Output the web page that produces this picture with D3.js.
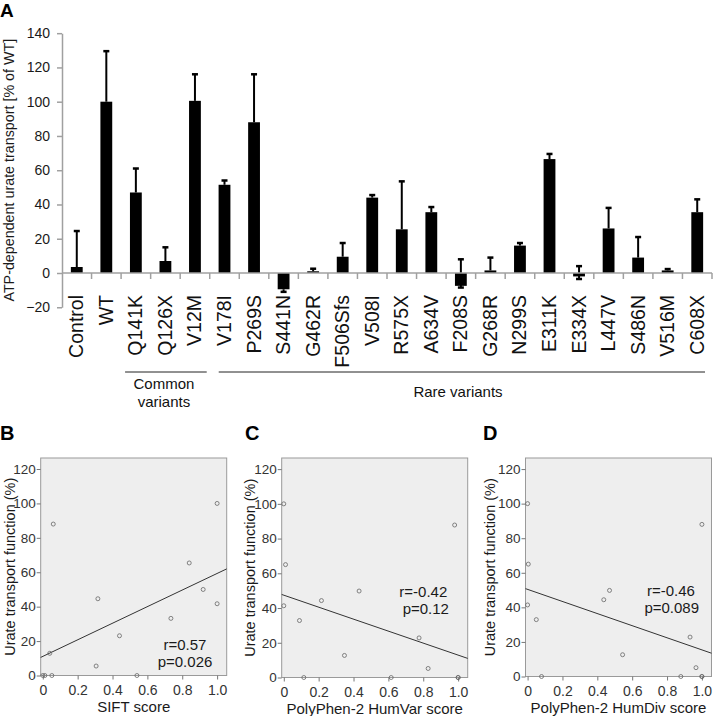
<!DOCTYPE html>
<html>
<head>
<meta charset="utf-8">
<script src="https://cdn.jsdelivr.net/npm/d3@7/dist/d3.min.js"></script>
<style>
  html, body { margin: 0; padding: 0; background: #fff; }
  svg { display: block; font-family: "Liberation Sans", Arial, sans-serif; }
</style>
</head>
<body>
<svg id="chart" width="714" height="716"></svg>
<script>
// ---------- Panel A data ----------
const categories = ["Control","WT","Q141K","Q126X","V12M","V178I","P269S","S441N","G462R","F506Sfs",
  "V508I","R575X","A634V","F208S","G268R","N299S","E311K","E334X","L447V","S486N","V516M","C608X"];
const means   = [3.5, 100, 47, 7, 100.5, 51.5, 88, -9.5, 1, 9.5, 44, 25.5, 35.5, -7.5, 1.5, 16, 66.5, -2, 26, 9, 1.5, 35.5];
const errUp   = [21, 29.5, 14, 8, 15.5, 2.5, 28, 0, 1.5, 8, 1.5, 28, 3, 15.5, 7.5, 1.5, 3, 6, 12, 12, 0.8, 7.5];
const errDown = [0, 0, 0, 0, 0, 0, 0, 1.5, 0, 0, 0, 0, 0, 1, 0, 0, 0, 1.5, 0, 0, 0, 0];
const yTicksA = [-20, 0, 20, 40, 60, 80, 100, 120, 140];
const groupNames = [["Common", "variants"], ["Rare variants"]];
const groupStart = ["Q141K", "V178I"];
const groupEnd   = ["V12M", "C608X"];
const yTitleA = "ATP-dependent urate transport [% of WT]";

// ---------- Panels B-D data ----------
const siftX = [0.06, 1.0, 0.84, 0.92, 1.0, 0.735, 0.316, 0.44, 0.04, 0.306, 0.54, 0.052, 0.0, 0.012];
const siftY = [88, 100, 65.4, 50, 41.7, 33.2, 44.6, 23.1, 12.9, 5.5, 0, 0, 0, 0];
const humvarX = [0, 0.01, 0, 0.09, 0.216, 0.115, 0.348, 0.432, 0.616, 0.776, 0.828, 0.98, 1.0, 1.0];
const humvarY = [100, 65, 41.3, 32.8, 44.3, 0, 12.7, 49.8, 0, 22.8, 5.2, 87.8, 0, 0];
const humdivX = [0, 0.004, 0, 0.05, 0.08, 0.437, 0.47, 0.545, 0.879, 0.932, 0.966, 1.0, 1.0, 1.0];
const humdivY = [100, 65, 41.4, 32.9, 0, 44.4, 49.8, 12.6, 0, 22.8, 5.1, 88, 0, 0];
const fitIntercept = [11.1, 47.4, 50.4];
const fitSlope = [48.2, -34.5, -35.0];
const statR = ["r=0.57", "r=-0.42", "r=-0.46"];
const statP = ["p=0.026", "p=0.12", "p=0.089"];
const xTitles = ["SIFT score", "PolyPhen-2 HumVar score", "PolyPhen-2 HumDiv score"];
const panelLetters = ["B", "C", "D"];
const yTitleScatter = "Urate transport function (%)";
const xTicksS = [0, 0.2, 0.4, 0.6, 0.8, 1.0];
const yTicksS = [0, 20, 40, 60, 80, 100, 120];

const svg = d3.select("#chart");

// ================= Panel A =================
const A = { left: 62, right: 712, y0: 273, pxPerUnit: 1.713 };
const x = d3.scaleBand().domain(categories).range([A.left, A.right]).paddingInner(0.6).paddingOuter(0.3);
const xb = d3.scaleBand().domain(categories).range([A.left, A.right]);
const y = d3.scaleLinear().domain([-20, 140]).range([A.y0 + 20 * A.pxPerUnit, A.y0 - 140 * A.pxPerUnit]);

svg.append("text").attr("x", 0).attr("y", 17).attr("font-size", 19).attr("font-weight", "bold").text("A");

// y axis
const yAxisA = svg.append("g").attr("transform", `translate(${A.left},0)`)
  .call(d3.axisLeft(y).tickValues(yTicksA).tickSize(5).tickSizeOuter(0).tickPadding(7));
yAxisA.select(".domain").attr("stroke", "#a0a0a0").attr("stroke-width", 1.5);
yAxisA.selectAll(".tick line").attr("stroke", "#a0a0a0").attr("stroke-width", 1.5);
yAxisA.selectAll(".tick text").attr("font-size", 14).attr("fill", "#1a1a1a").attr("font-family", "Liberation Sans, Arial, sans-serif");

svg.append("text")
  .attr("transform", `translate(13.5,${(y(140)+ y(-20))/2 + 0}) rotate(-90)`)
  .attr("text-anchor", "middle").attr("font-size", 14.3).attr("fill", "#1a1a1a")
  .text(yTitleA);

// bars
svg.append("g").selectAll("rect").data(categories).join("rect")
  .attr("x", d => x(d))
  .attr("width", x.bandwidth())
  .attr("y", (d, i) => y(Math.max(0, means[i])))
  .attr("height", (d, i) => Math.abs(y(means[i]) - y(0)))
  .attr("fill", "#000");

// error bars
const eb = svg.append("g").attr("stroke", "#000");
categories.forEach((c, i) => {
  const cx = x(c) + x.bandwidth() / 2;
  const hi = means[i] + errUp[i], lo = means[i] - errDown[i];
  eb.append("line").attr("x1", cx).attr("x2", cx).attr("y1", y(lo)).attr("y2", y(hi)).attr("stroke-width", 2);
  if (errUp[i] > 0) eb.append("line").attr("x1", cx - 3).attr("x2", cx + 3).attr("y1", y(hi)).attr("y2", y(hi)).attr("stroke-width", 2.5);
  if (errDown[i] > 0) eb.append("line").attr("x1", cx - 3).attr("x2", cx + 3).attr("y1", y(lo)).attr("y2", y(lo)).attr("stroke-width", 2.5);
});

// x axis at zero
const gx = svg.append("g").attr("stroke", "#a0a0a0").attr("stroke-width", 1.5);
gx.append("line").attr("x1", A.left).attr("x2", A.right).attr("y1", y(0)).attr("y2", y(0));
categories.forEach(c => {
  const bx = xb(c) + xb.bandwidth();
  gx.append("line").attr("x1", bx).attr("x2", bx).attr("y1", y(0)).attr("y2", y(0) + 6);
});

// category labels
svg.append("g").selectAll("text").data(categories).join("text")
  .attr("transform", d => `translate(${x(d) + x.bandwidth()/2 + 6.5},295) rotate(-90)`)
  .attr("text-anchor", "end").attr("font-size", 19.5).attr("fill", "#111")
  .text(d => d);

// group lines
groupNames.forEach((g, gi) => {
  const x0 = xb(groupStart[gi]) + (gi === 0 ? 4 : 9);
  const x1 = xb(groupEnd[gi]) + xb.bandwidth() - (gi === 0 ? 3 : 7);
  svg.append("line").attr("x1", x0).attr("x2", x1).attr("y1", 372).attr("y2", 372)
    .attr("stroke", "#222").attr("stroke-width", 1);
  const t = svg.append("text").attr("text-anchor", "middle").attr("font-size", 15).attr("fill", "#111");
  const cx = gi === 0 ? (x0 + x1) / 2 - 2 : 458;
  g.forEach((line, li) => {
    t.append("tspan").attr("x", cx).attr("y", (gi === 0 ? 389 : 396.5) + li * 18).text(line);
  });
});

// ================= Panels B-D =================
const panels = [
  { L: 40.7, bottom: 675.5, xs: siftX, ys: siftY, titleX: 15, letterX: 0, statX: [185, 185], statY: [650, 667] },
  { L: 281.7, bottom: 677.5, xs: humvarX, ys: humvarY, titleX: 255, letterX: 245, statX: [423.3, 425.8], statY: [596.7, 614.3] },
  { L: 525.5, bottom: 676.5, xs: humdivX, ys: humdivY, titleX: 495, letterX: 483, statX: [671, 671.7], statY: [596, 613.3] }
];
const TOP = 458, W = 186;

panels.forEach((p, pi) => {
  const g = svg.append("g");
  const sx = d3.scaleLinear().domain([-0.012, 1.055]).range([p.L, p.L + W]);
  const sy = d3.scaleLinear().domain([0, 126.4]).range([p.bottom, TOP]);

  g.append("text").attr("x", p.letterX).attr("y", 440).attr("font-size", 20).attr("font-weight", "bold").text(panelLetters[pi]);

  g.append("rect").attr("x", p.L).attr("y", TOP).attr("width", W).attr("height", p.bottom - TOP)
    .attr("fill", "#eeeeee").attr("stroke", "#9a9a9a").attr("stroke-width", 1);

  const ax = g.append("g").attr("transform", `translate(0,${p.bottom})`)
    .call(d3.axisBottom(sx).tickValues(xTicksS).tickFormat(d => d === 0 ? "0" : d3.format(".1f")(d)).tickSize(4).tickPadding(6));
  ax.select(".domain").remove();
  ax.selectAll(".tick line").attr("stroke", "#777");
  ax.selectAll(".tick text").attr("font-size", 14).attr("fill", "#333").attr("font-family", "Liberation Sans, Arial, sans-serif");

  const ay = g.append("g").attr("transform", `translate(${p.L},0)`)
    .call(d3.axisLeft(sy).tickValues(yTicksS).tickSize(4).tickPadding(1));
  ay.select(".domain").remove();
  ay.selectAll(".tick line").attr("stroke", "#777");
  ay.selectAll(".tick text").attr("font-size", 13.5).attr("fill", "#333").attr("font-family", "Liberation Sans, Arial, sans-serif");

  // regression line
  const d0 = sx.domain()[0], d1 = sx.domain()[1];
  g.append("line")
    .attr("x1", sx(d0)).attr("y1", sy(fitIntercept[pi] + fitSlope[pi] * d0))
    .attr("x2", sx(d1)).attr("y2", sy(fitIntercept[pi] + fitSlope[pi] * d1))
    .attr("stroke", "#333").attr("stroke-width", 1);

  // points
  g.append("g").selectAll("circle").data(p.xs).join("circle")
    .attr("cx", d => sx(d)).attr("cy", (d, i) => sy(p.ys[i])).attr("r", 2)
    .attr("fill", "none").attr("stroke", "#666").attr("stroke-width", 0.8);

  // stats
  [statR[pi], statP[pi]].forEach((s, si) => {
    g.append("text").attr("x", p.statX[si]).attr("y", p.statY[si]).attr("text-anchor", "middle")
      .attr("font-size", 15).attr("fill", "#1a1a1a").text(s);
  });

  // axis titles
  g.append("text").attr("x", p.L + W / 2).attr("y", p.bottom + 36).attr("text-anchor", "middle")
    .attr("font-size", 15).attr("fill", "#1a1a1a").text(xTitles[pi]);
  g.append("text").attr("transform", `translate(${p.titleX},${(TOP + p.bottom) / 2}) rotate(-90)`)
    .attr("text-anchor", "middle").attr("font-size", 14.5).attr("fill", "#1a1a1a").text(yTitleScatter);
});
</script>
</body>
</html>
